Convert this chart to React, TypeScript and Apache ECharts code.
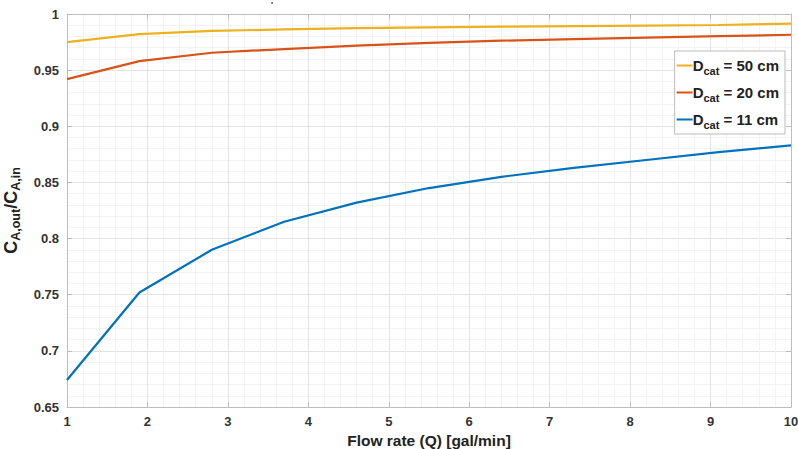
import React, { useEffect, useRef } from "react";
import * as echarts from "echarts";

const flowRates = [1, 1.9, 2.8, 3.7, 4.6, 5.5, 6.4, 7.3, 8.2, 9.1, 10];
const d50 = [0.975, 0.982, 0.9849, 0.9863, 0.9874, 0.9881, 0.9887, 0.9892, 0.9897, 0.9902, 0.9915];
const d20 = [0.942, 0.958, 0.9655, 0.9688, 0.9718, 0.9742, 0.9762, 0.9777, 0.979, 0.9803, 0.9815];
const d11 = [0.674, 0.752, 0.79, 0.815, 0.832, 0.845, 0.855, 0.863, 0.87, 0.877, 0.883];
const seriesNames = ["50", "20", "11"];
const colors = ["#EDB120", "#D95319", "#0072BD"];

const pairs = (ys: number[]) => flowRates.map((x, i) => [x, ys[i]]);

export default function App() {
  const ref = useRef<HTMLDivElement>(null);
  useEffect(() => {
    if (!ref.current) return;
    const chart = echarts.init(ref.current, undefined, { renderer: "svg" });
    const font = "'Liberation Sans', Arial, sans-serif";
    const axisColor = "#bdbdbd";
    const labelStyle = { color: "#333", fontWeight: "bold" as const, fontSize: 13, fontFamily: font };
    chart.setOption({
      animation: false,
      backgroundColor: "#fff",
      grid: { left: 67, right: 7, top: 14, bottom: 42, show: false, containLabel: false, outerBoundsMode: "none" },
      legend: {
        orient: "vertical",
        right: 13,
        top: 51,
        width: 106,
        itemWidth: 16,
        itemHeight: 2,
        itemGap: 6,
        padding: [4, 6, 4, 2],
        borderColor: "#bbb",
        borderWidth: 1,
        backgroundColor: "#fff",
        icon: "rect",
        data: seriesNames,
        formatter: (n: string) => `{d|D}{s|cat}{d| = ${n} cm}`,
        textStyle: {
          fontFamily: font,
          padding: [0, 0, 0, -5],
          rich: {
            d: { fontSize: 15, fontWeight: "bold", color: "#222", fontFamily: font, lineHeight: 19 },
            s: { fontSize: 11, fontWeight: "bold", color: "#222", fontFamily: font, padding: [10, 0, 0, 0], lineHeight: 19 },
          },
        },
      },
      xAxis: [
        {
          type: "value",
          min: 1,
          max: 10,
          interval: 1,
          name: "Flow rate (Q) [gal/min]",
          nameLocation: "middle",
          nameGap: 25,
          nameTextStyle: { color: "#222", fontWeight: "bold", fontSize: 15.5, fontFamily: font },
          axisLine: { show: true, lineStyle: { color: axisColor } },
          axisTick: { show: true, inside: true, length: 5, lineStyle: { color: axisColor } },
          axisLabel: { ...labelStyle, margin: 8 },
          splitLine: { show: true, lineStyle: { color: "#e3e3e3" } },
          minorTick: { show: false, splitNumber: 5 },
          minorSplitLine: { show: true, lineStyle: { color: "#f3f3f3" } },
        },
        {
          type: "value",
          position: "top",
          min: 1,
          max: 10,
          interval: 1,
          axisLine: { show: true, lineStyle: { color: axisColor } },
          axisTick: { show: true, inside: true, length: 5, lineStyle: { color: axisColor } },
          axisLabel: { show: false },
          splitLine: { show: false },
        },
      ],
      yAxis: [
        {
          type: "value",
          min: 0.65,
          max: 1,
          interval: 0.05,
          name: "{m|C}{s|A,out}{m|/C}{s|A,in}",
          nameLocation: "middle",
          nameGap: 38,
          nameRotate: 90,
          nameTextStyle: {
            rich: {
              m: { fontSize: 18, fontWeight: "bold", color: "#222", fontFamily: font, lineHeight: 22 },
              s: { fontSize: 12.5, fontWeight: "bold", color: "#222", fontFamily: font, padding: [10, 0, 0, 0], lineHeight: 22 },
            },
          },
          axisLine: { show: true, lineStyle: { color: axisColor } },
          axisTick: { show: true, inside: true, length: 5, lineStyle: { color: axisColor } },
          axisLabel: { ...labelStyle, margin: 8, formatter: (v: number) => String(parseFloat(v.toFixed(2))) },
          splitLine: { show: true, lineStyle: { color: "#e3e3e3" } },
          minorTick: { show: false, splitNumber: 5 },
          minorSplitLine: { show: true, lineStyle: { color: "#f3f3f3" } },
        },
        {
          type: "value",
          position: "right",
          min: 0.65,
          max: 1,
          interval: 0.05,
          axisLine: { show: true, lineStyle: { color: axisColor } },
          axisTick: { show: true, inside: true, length: 5, lineStyle: { color: axisColor } },
          axisLabel: { show: false },
          splitLine: { show: false },
        },
      ],
      series: [d50, d20, d11].map((ys, i) => ({
        name: seriesNames[i],
        type: "line",
        data: pairs(ys),
        showSymbol: false,
        symbol: "none",
        lineStyle: { color: colors[i], width: 2.2 },
        itemStyle: { color: colors[i] },
      })),
      graphic: [
        { type: "circle", shape: { cx: 272, cy: 3, r: 0.8 }, style: { fill: "#444" } },
      ],
    });
    return () => chart.dispose();
  }, []);
  return <div ref={ref} style={{ width: 798, height: 449, position: "fixed", left: 0, top: 0 }} />;
}
